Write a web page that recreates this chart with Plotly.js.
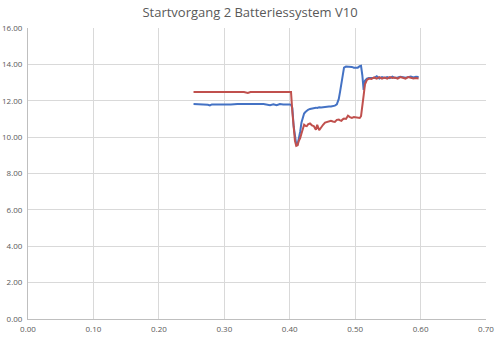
<!DOCTYPE html>
<html><head><meta charset="utf-8">
<script src="https://cdn.plot.ly/plotly-3.0.1.min.js"></script>
<style>html,body{margin:0;padding:0;background:#fff;}#chart{width:500px;height:340px;}</style>
</head><body><div id="chart"></div>
<script>
const time = [0.253,0.26,0.27,0.275,0.278,0.281,0.29,0.30,0.31,0.32,0.33,0.336,0.34,0.35,0.36,0.37,0.375,0.38,0.385,0.39,0.395,0.400,0.402,0.404,0.406,0.408,0.410,0.412,0.414,0.416,0.418,0.420,0.422,0.424,0.426,0.428,0.431,0.434,0.437,0.440,0.442,0.445,0.448,0.451,0.454,0.457,0.460,0.463,0.466,0.469,0.472,0.475,0.477,0.479,0.481,0.483,0.486,0.489,0.492,0.495,0.498,0.501,0.504,0.507,0.509,0.511,0.513,0.515,0.518,0.521,0.525,0.529,0.533,0.537,0.541,0.545,0.549,0.553,0.557,0.561,0.565,0.569,0.573,0.577,0.581,0.585,0.589,0.593,0.597];
const blueSeries = [11.82,11.82,11.81,11.78,11.74,11.80,11.80,11.79,11.80,11.82,11.82,11.82,11.82,11.82,11.82,11.76,11.80,11.75,11.82,11.80,11.82,11.80,11.78,11.60,10.60,9.90,9.60,9.60,9.90,10.30,10.80,11.10,11.30,11.38,11.45,11.50,11.55,11.58,11.60,11.62,11.60,11.64,11.63,11.65,11.66,11.66,11.68,11.68,11.70,11.73,11.80,12.10,12.50,13.00,13.50,13.82,13.88,13.88,13.86,13.86,13.82,13.80,13.82,13.90,13.92,13.40,12.60,13.10,13.22,13.25,13.27,13.25,13.35,13.22,13.30,13.25,13.30,13.24,13.33,13.25,13.28,13.32,13.30,13.26,13.30,13.33,13.28,13.32,13.30];
const redSeries = [12.48,12.48,12.48,12.44,12.48,12.48,12.48,12.48,12.48,12.48,12.48,12.43,12.48,12.48,12.48,12.48,12.48,12.48,12.48,12.48,12.48,12.48,12.48,11.40,10.50,9.80,9.52,9.55,9.80,9.95,10.20,10.45,10.68,10.62,10.60,10.70,10.75,10.65,10.60,10.40,10.68,10.38,10.55,10.68,10.80,10.82,10.85,10.90,10.86,10.84,10.95,10.97,10.92,10.90,10.98,11.02,11.00,11.18,11.10,11.06,11.10,11.08,11.03,11.05,11.15,11.60,12.30,12.90,13.15,13.22,13.20,13.28,13.22,13.30,13.22,13.28,13.22,13.30,13.25,13.28,13.22,13.30,13.27,13.22,13.30,13.25,13.22,13.25,13.22];
const xTicks = [0,0.1,0.2,0.3,0.4,0.5,0.6,0.7];
const yTicks = [0,2,4,6,8,10,12,14,16];
const titleText = 'Startvorgang 2 Batteriessystem V10';

const font = 'Open Sans, Liberation Sans, sans-serif';
Plotly.newPlot('chart', [
  {x: time, y: blueSeries, mode: 'lines', line: {color: '#4472C4', width: 2}, hoverinfo: 'skip'},
  {x: time, y: redSeries, mode: 'lines', line: {color: '#C0504D', width: 2}, hoverinfo: 'skip'}
], {
  width: 500, height: 340,
  margin: {l: 28, r: 14, t: 28, b: 21, pad: 0},
  paper_bgcolor: '#fff', plot_bgcolor: '#fff',
  showlegend: false,
  title: {text: titleText, x: 0.5, xanchor: 'center', y: 0.962, yanchor: 'middle', font: {family: font, size: 13, color: '#595959'}},
  xaxis: {range: [0, 0.7], tickvals: xTicks, ticktext: xTicks.map(v => v.toFixed(2)), showgrid: true, gridcolor: '#D9D9D9', gridwidth: 1, zeroline: false, showline: true, linecolor: '#BFBFBF', linewidth: 1, ticks: '', ticklabelstandoff: 2, tickfont: {family: font, size: 8, color: '#595959'}, fixedrange: true},
  yaxis: {range: [0, 16], tickvals: yTicks, ticktext: yTicks.map(v => v.toFixed(2)), showgrid: true, gridcolor: '#D9D9D9', gridwidth: 1, zeroline: false, showline: true, linecolor: '#BFBFBF', linewidth: 1, ticks: '', ticklabelstandoff: 3, tickfont: {family: font, size: 8, color: '#595959'}, fixedrange: true}
}, {displayModeBar: false, staticPlot: true});
</script></body></html>
